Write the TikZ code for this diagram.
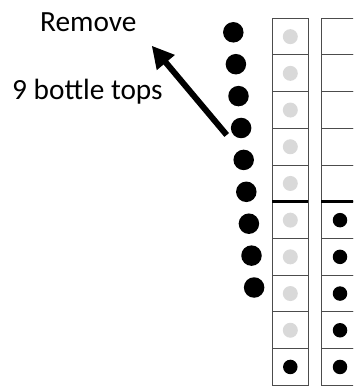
\documentclass[tikz,border=0pt]{standalone}
\usepackage{fontspec}
\setmainfont{Carlito}
\usetikzlibrary{arrows.meta}
\begin{document}
\begin{tikzpicture}[x=1pt,y=-1pt,
  cell/.style={draw=black!70,line width=1pt,rectangle,minimum height=36.7pt,inner sep=0pt,outer sep=0pt},
  lcell/.style={cell,minimum width=36pt},
  rcell/.style={cell,minimum width=40pt},
  greydot/.style={circle,fill=black!15,minimum size=15pt,inner sep=0pt},
  smalldot/.style={circle,fill=black,minimum size=14.5pt,inner sep=0pt},
  bigdot/.style={circle,fill=black,minimum size=20.5pt,inner sep=0pt},
  label/.style={font=\fontsize{29.3}{33}\selectfont,inner sep=0pt},
  divider/.style={line width=3pt,black}]
\useasboundingbox (0,0) rectangle (353,387);
\clip (0,0) rectangle (353,387);
% columns
\foreach \k in {0,...,9} {
  \node[lcell] (L\k) at (290.3,{36.65+36.7*\k}) {};
  \node[rcell] (R\k) at (341,{36.65+36.7*\k}) {};
}
% dots in left column
\foreach \k in {0,...,8} {\node[greydot] (g\k) at (L\k.center) {};}
\node[smalldot] (lb) at (L9.center) {};
% dots in right column
\foreach \k in {5,...,9} {\node[smalldot] (rb\k) at ([xshift=-1pt]R\k.center) {};}
% dividers
\draw[divider] (L4.south west) -- (L4.south east);
\draw[divider] (R4.south west) -- (R4.south east);
% bottle tops
\foreach \i in {0,...,8} {\node[bigdot] (b\i) at ({233.3+2.6*\i},{32.3+31.9*\i}) {};}
% text
\node[label,anchor=base] (rem) at (88.3,32) {Remove};
\node[label,anchor=base west] (nine) at (12,100) {9 bottle tops};
% arrow
\coordinate (atail) at (226.7,135);
\coordinate (ahead) at (151.7,45.7);
\draw[line width=6pt,-{Triangle[length=22pt,width=22pt]}] (atail) -- (ahead);
\end{tikzpicture}
\end{document}
